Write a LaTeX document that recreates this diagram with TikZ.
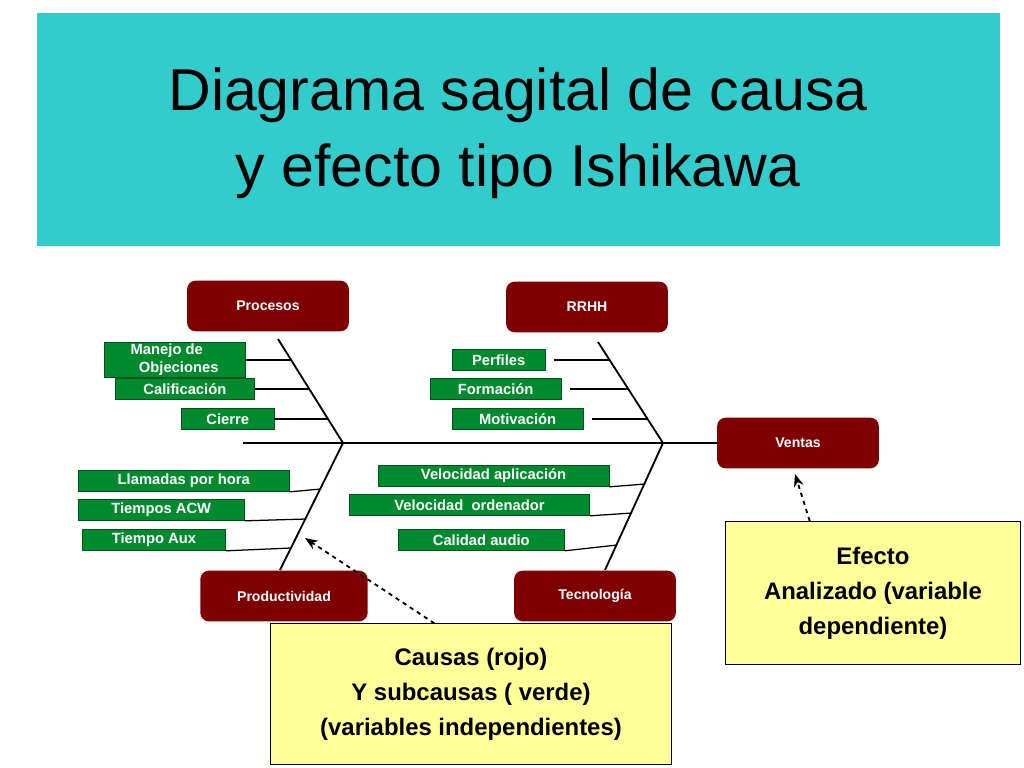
\documentclass[tikz,border=0pt]{standalone}
\usepackage{fontspec}
\setmainfont{Liberation Sans}
\usetikzlibrary{arrows.meta}
\definecolor{titlecyan}{HTML}{33CCCC}
\definecolor{causered}{HTML}{7F0000}
\definecolor{subgreen}{HTML}{008A2E}
\definecolor{noteyellow}{HTML}{FFFF99}
\tikzset{
  cause/.style={fill=causered, rounded corners=6pt, text=white, font=\fontsize{10}{12}\selectfont\bfseries, minimum width=115pt, minimum height=36pt},
  sub/.style={fill=subgreen, draw=subgreen!60!black, text=white, font=\fontsize{10.5}{11}\selectfont\bfseries, inner sep=1pt, anchor=west, minimum height=15pt},
  bone/.style={line width=1.3pt},
  twig/.style={line width=0.9pt},
  note/.style={fill=noteyellow, draw=black, align=center, font=\fontsize{17}{25}\selectfont\bfseries},
  pointer/.style={dashed, line width=1.3pt, -{Stealth[length=9pt,width=7pt]}}
}
\begin{document}
\begin{tikzpicture}[x=0.025cm,y=-0.025cm]
\useasboundingbox (0,0) rectangle (1024,768);
% title
\fill[titlecyan] (37,13) rectangle (1000,246);
\node[align=center, font=\fontsize{42}{54}\selectfont] (title) at (518,133) {Diagrama sagital de causa\\y efecto tipo Ishikawa};
% spine and bones
\coordinate (tail) at (243,443);
\coordinate (j1) at (343,443);
\coordinate (j2) at (663,443);
\coordinate (p0) at (278,339);
\coordinate (r0) at (598,342);
\coordinate (q0) at (280,570);
\coordinate (t0) at (605,570);
\node[cause, minimum width=115pt] (ventas) at (798,443) {Ventas};
\draw[bone] (tail) -- (ventas.west);
\draw[bone] (p0) -- (j1) -- (q0);
\draw[bone] (r0) -- (j2) -- (t0);
% main causes
\node[cause] (procesos) at (268,306) {Procesos};
\node[cause] (rrhh) at (587,307) {RRHH};
\node[cause, minimum width=119pt] (productividad) at (284,596) {Productividad};
\node[cause] (tecnologia) at (595,596) {Tecnología};
% sub causes
\node[sub, align=left, font=\fontsize{10.5}{13}\selectfont\bfseries, minimum width=100pt] (manejo) at (104,360) {Manejo de\\\ \ Objeciones};
\node[sub, minimum width=99pt] (calif) at (115,389) {Calificación};
\node[sub, minimum width=66pt] (cierre) at (181,419) {Cierre};
\node[sub, minimum width=150pt] (llamadas) at (78,481) {Llamadas por hora};
\node[sub, minimum width=118pt] (acw) at (78,510) {Tiempos ACW};
\node[sub, minimum width=102pt] (aux) at (82,540) {Tiempo Aux};
\node[sub, minimum width=66pt] (perfiles) at (452,360) {Perfiles};
\node[sub, minimum width=93pt] (formacion) at (430,389) {Formación};
\node[sub, minimum width=93pt] (motivacion) at (452,419) {Motivación};
\node[sub, minimum width=164pt] (velapp) at (378,476) {Velocidad aplicación};
\node[sub, minimum width=171pt] (velord) at (349,505) {Velocidad\ \ ordenador};
\node[sub, minimum width=118pt] (audio) at (398,540) {Calidad audio};
% twigs
\coordinate (b1) at (292,360);
\coordinate (b2) at (310,389);
\coordinate (b3) at (329,419);
\coordinate (b4) at (321,489);
\coordinate (b5) at (306,519);
\coordinate (b6) at (291,548);
\coordinate (b7) at (610,360);
\coordinate (b8) at (629,389);
\coordinate (b9) at (648,419);
\coordinate (b10) at (645,484);
\coordinate (b11) at (632,513);
\coordinate (b12) at (617,545);
\draw[twig] (manejo.east) -- (b1);
\draw[twig] (calif.east) -- (b2);
\draw[twig] (cierre.east) -- (b3);
\draw[twig] (llamadas.south east) -- (b4);
\draw[twig] (acw.south east) -- (b5);
\draw[twig] (aux.south east) -- (b6);
\draw[twig] ([xshift=6]perfiles.east) -- (b7);
\draw[twig] ([xshift=6]formacion.east) -- (b8);
\draw[twig] ([xshift=6]motivacion.east) -- (b9);
\draw[twig] (velapp.south east) -- (b10);
\draw[twig] (velord.south east) -- (b11);
\draw[twig] (audio.south east) -- (b12);
% notes
\node[note, minimum width=210pt, minimum height=102pt] (efecto) at (873,593) {Efecto\\Analizado (variable\\dependiente)};
\node[note, minimum width=285pt, minimum height=100pt] (causas) at (471,694) {Causas (rojo)\\Y subcausas ( verde)\\(variables independientes)};
\coordinate (pe) at (795,474);
\coordinate (pc) at (305,538);
\draw[pointer] ([xshift=-45]efecto.north) -- (pe);
\draw[pointer] ([xshift=-26]causas.north) -- (pc);
\end{tikzpicture}
\end{document}
